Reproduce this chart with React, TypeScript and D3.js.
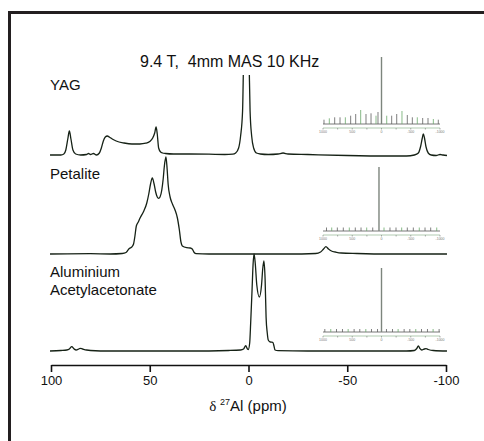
import React, { useRef, useEffect } from 'react';
import * as d3 from 'd3';

// main spectra: [ppm, intensity above baseline]
const yagSpectrum: [number, number][] = [
  [100.5, 1], [95, 1], [93.5, 2], [92.5, 6], [91.5, 17], [90.7, 25], [89.9, 17], [88.9, 6], [87.5, 2], [85, 1],
  [82, 1.5], [81, 2.5], [80, 1.5], [78.5, 2.5], [77, 1], [75.5, 3], [74.5, 8], [73.5, 15], [72.5, 19], [71.5, 20],
  [70.5, 19], [69, 17], [67, 15], [63, 13], [59, 12], [55, 12], [52, 12.8], [50, 14.5], [48.5, 18], [47.5, 23], [46.8, 29],
  [46.2, 22], [45.5, 8], [44.5, 4], [43.5, 3], [42, 2.5], [38, 2], [30, 2], [20, 1.8], [12, 1.5], [8, 1.8],
  [6.5, 3], [5, 8], [4, 20], [3, 45], [2.6, 85], [2.3, 120], [1.1, 160], [-0.1, 120], [-0.4, 85], [-0.8, 45],
  [-1.6, 20], [-2.6, 8], [-4, 3], [-6, 2], [-10, 1.5], [-15, 2], [-17.5, 3], [-20, 2], [-30, 1.5], [-50, 0.5],
  [-70, 0], [-80, 0], [-84, 1], [-86, 3], [-87.2, 10], [-88, 18], [-88.5, 22], [-89.1, 18], [-89.9, 9], [-91, 3],
  [-92.5, 1], [-95, 0.5], [-97, 1.5], [-98.5, 1], [-100.5, 0.5],
];

const petaliteSpectrum: [number, number][] = [
  [100.5, 0], [80, 0.3], [70, 0], [64, 0.5], [62, 1.5], [61, 4], [60.2, 5.7], [59.1, 7], [58.2, 10], [57.5, 18],
  [56.8, 28], [55.8, 32], [54.9, 36], [53, 43], [51.5, 51], [50.5, 60], [49.6, 70], [48.7, 76], [47.8, 70], [47, 62],
  [46.2, 57], [45.5, 55.7], [44.8, 57], [43.9, 64], [43.2, 75], [42.6, 88], [41.8, 97], [41.2, 85], [40.7, 70],
  [39.7, 57], [38.5, 50], [37.2, 44], [36, 36], [35, 24], [34.2, 12], [33.5, 8], [31.3, 6.3], [29.5, 6], [28.5, 5],
  [27.5, 1.5], [26.5, 0.3], [20, 0], [0, 0], [-20, 0], [-34, 0.5], [-36.5, 2], [-38, 5], [-39.2, 7.3], [-40.5, 5],
  [-42, 3], [-44, 2], [-47, 1], [-55, 0.5], [-70, 0], [-100.5, 0],
];

const acacSpectrum: [number, number][] = [
  [100.5, 0], [95, 0.5], [92, 1], [90.7, 2], [89.5, 4.3], [88.3, 2], [87.3, 1], [86, 2], [85.3, 2.7], [84, 2],
  [82, 1], [80, 0.5], [70, 0], [30, 0], [10, 0.5], [4, 1], [2.5, 2], [1.4, 5.3], [0.5, 2], [0.1, 1.5],
  [-0.6, 8], [-1.1, 28], [-1.8, 61], [-2.3, 86], [-2.8, 97], [-3.4, 88], [-4.2, 66], [-5.5, 54], [-6.6, 66],
  [-7.2, 82], [-7.8, 90], [-8.4, 72], [-8.9, 34], [-9.5, 18], [-10, 11], [-11, 9], [-12.3, 8.7], [-12.9, 5],
  [-13.4, 1], [-15, 0.3], [-30, 0], [-80, 0], [-84, 0.5], [-85.2, 2.5], [-86, 5], [-86.8, 2.5], [-87.7, 1],
  [-89, 2], [-89.9, 2.3], [-91, 1.5], [-93.6, 0.5], [-100.5, 0],
];

// inset sideband manifolds: [ppm, intensity]
const yagSidebands: [number, number][] = [
  [983, 4.3], [892, 5.7], [800, 6.7], [709, 6.7], [618, 6.7], [527, 8.3], [441, 10], [356, 14], [265, 10],
  [179, 10.7], [94, 8.3], [60, 12], [0, 67], [-89, 8.3], [-174, 8.3], [-260, 10], [-350, 13], [-441, 9],
  [-527, 6.7], [-612, 6.7], [-704, 6], [-795, 6], [-886, 5], [-971, 4.3],
];

const petaliteSidebands: [number, number][] = [
  [940, 3.5], [851, 3.5], [755, 3.5], [653, 3.5], [550, 3.5], [448, 3.5], [350, 3.5], [253, 3.5], [150, 3.5],
  [43, 64], [-43, 3.5], [-145, 3.5], [-248, 3.5], [-345, 3.5], [-441, 3.5], [-544, 3.5], [-646, 3.5],
  [-744, 3.5], [-841, 3.5], [-944, 3.5],
];

const acacSidebands: [number, number][] = [
  [969, 3], [867, 3], [769, 3], [667, 3], [570, 3], [468, 3], [371, 3], [268, 3], [171, 3], [68, 3],
  [0, 64], [-85, 3], [-188, 3], [-284, 3], [-387, 3], [-484, 3], [-586, 3], [-684, 3], [-786, 3], [-882, 3],
  [-985, 3],
];

const majorTicks = [100, 50, 0, -50, -100];
const minorTicks = [75, 25, -25, -75];
const insetTicks = [1000, 750, 500, 250, 0, -250, -500, -750, -1000];
const insetLabels = [1000, 500, 0, -500, -1000];

const panels = [
  { name: 'YAG', data: yagSpectrum, sidebands: yagSidebands, base: 156, insetBase: 124, labels: ['YAG'], labelY: 90 },
  { name: 'Petalite', data: petaliteSpectrum, sidebands: petaliteSidebands, base: 254, insetBase: 231, labels: ['Petalite'], labelY: 179 },
  { name: 'Acac', data: acacSpectrum, sidebands: acacSidebands, base: 351, insetBase: 332, labels: ['Aluminium', 'Acetylacetonate'], labelY: 277 },
];

const FONT = '"Liberation Sans", Arial, sans-serif';

const App = () => {
  const svgRef = useRef<SVGSVGElement>(null);
  const width = 484;
  const height = 441;

  useEffect(() => {
    document.body.style.margin = '0';
    document.body.style.overflow = 'hidden';

    const svg = d3.select(svgRef.current);
    svg.selectAll('*').remove();

    const x = d3.scaleLinear().domain([100, -100]).range([51, 446]);
    const xi = d3.scaleLinear().domain([1000, -1000]).range([323, 440]);

    // clip for the off-scale central YAG peak
    svg.append('defs').append('clipPath').attr('id', 'plot-clip')
      .append('rect').attr('x', 40).attr('y', 75).attr('width', 420).attr('height', 300);

    // frame (only top and left edges fall inside the picture)
    svg.append('path')
      .attr('d', `M9.5,${height}V12.5H${width}`)
      .attr('fill', 'none')
      .attr('stroke', '#231f20')
      .attr('stroke-width', 3);

    panels.forEach(p => {
      const y = d3.scaleLinear().domain([0, 100]).range([p.base, p.base - 100]);
      const line = d3.line<[number, number]>()
        .x(d => x(d[0]))
        .y(d => y(d[1]))
        .curve(d3.curveMonotoneX);

      svg.append('path')
        .datum(p.data)
        .attr('d', line)
        .attr('clip-path', 'url(#plot-clip)')
        .attr('fill', 'none')
        .attr('stroke', '#162216')
        .attr('stroke-width', 1.3);

      // sample labels
      p.labels.forEach((t, i) => {
        svg.append('text')
          .attr('x', 50)
          .attr('y', p.labelY + i * 18)
          .attr('font-family', FONT)
          .attr('font-size', 15)
          .attr('fill', '#111')
          .text(t);
      });

      // inset: full sideband manifold
      const yi = d3.scaleLinear().domain([0, 100]).range([p.insetBase, p.insetBase - 100]);
      const g = svg.append('g');
      g.append('line')
        .attr('x1', xi(1000)).attr('x2', xi(-1000))
        .attr('y1', p.insetBase).attr('y2', p.insetBase)
        .attr('stroke', '#555').attr('stroke-width', 0.8);
      g.selectAll('line.stick')
        .data(p.sidebands)
        .join('line')
        .attr('class', 'stick')
        .attr('x1', d => xi(d[0])).attr('x2', d => xi(d[0]))
        .attr('y1', yi(0)).attr('y2', d => yi(d[1]))
        .attr('stroke', (d, i) => (d[1] > 30 ? '#7d857d' : i % 3 === 1 ? '#6aa86a' : '#5e5e5e'))
        .attr('stroke-width', d => (d[1] > 30 ? 1.4 : 0.8));

      const axY = p.insetBase + 4;
      g.append('line')
        .attr('x1', xi(1000)).attr('x2', xi(-1000))
        .attr('y1', axY).attr('y2', axY)
        .attr('stroke', '#8fb58f').attr('stroke-width', 0.7);
      g.selectAll('line.itick')
        .data(insetTicks)
        .join('line')
        .attr('class', 'itick')
        .attr('x1', d => xi(d)).attr('x2', d => xi(d))
        .attr('y1', axY).attr('y2', axY + 1.5)
        .attr('stroke', '#777').attr('stroke-width', 0.6);
      g.selectAll('text.ilabel')
        .data(insetLabels)
        .join('text')
        .attr('class', 'ilabel')
        .attr('x', d => xi(d))
        .attr('y', axY + 5)
        .attr('text-anchor', 'middle')
        .attr('font-family', FONT)
        .attr('font-size', 3.5)
        .attr('fill', '#777')
        .text(d => String(d));
    });

    // title
    svg.append('text')
      .attr('x', 140)
      .attr('y', 67)
      .attr('font-family', FONT)
      .attr('font-size', 16)
      .attr('fill', '#111')
      .style('white-space', 'pre')
      .text('9.4 T,  4mm MAS 10 KHz');

    // x axis
    const axisY = 365;
    const ax = svg.append('g').attr('transform', `translate(0,${axisY})`);
    ax.call(d3.axisBottom(x).tickValues(minorTicks).tickSize(4).tickSizeOuter(0).tickFormat(() => ''));
    ax.call(d3.axisBottom(x).tickValues(majorTicks).tickSize(7).tickSizeOuter(0).tickPadding(4)
      .tickFormat(d => String(d)));
    ax.selectAll('path.domain').attr('stroke', '#111').attr('stroke-width', 1.6);
    ax.selectAll('.tick line').attr('stroke', '#111').attr('stroke-width', 1.6);
    ax.selectAll('.tick text')
      .attr('font-family', FONT)
      .attr('font-size', 13)
      .attr('fill', '#111');

    // axis title
    const t = svg.append('text')
      .attr('x', 248)
      .attr('y', 411)
      .attr('text-anchor', 'middle')
      .attr('font-family', FONT)
      .attr('font-size', 15)
      .attr('fill', '#111');
    t.append('tspan').attr('font-family', '"Liberation Serif", serif').text('δ ');
    t.append('tspan').attr('font-size', 9).attr('dy', -6).text('27');
    t.append('tspan').attr('dy', 6).text('Al (ppm)');
  }, []);

  return (
    <div style={{ position: 'absolute', left: 0, top: 0 }}>
      <svg ref={svgRef} width={width} height={height} style={{ display: 'block', background: '#fff' }} />
    </div>
  );
};

export default App;
